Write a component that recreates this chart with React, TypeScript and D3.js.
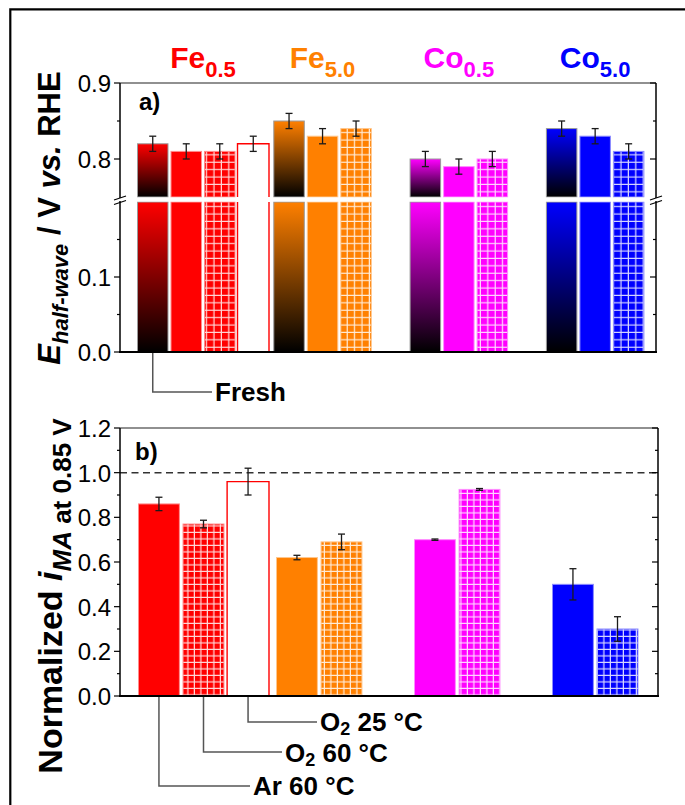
import React from 'react';
import * as d3 from 'd3';

const W = 685;
const H = 805;
const FONT = "'Liberation Sans', Arial, Helvetica, sans-serif";

// ---- data ----
const groupKeys = ['Fe0.5', 'Fe5.0', 'Co0.5', 'Co5.0'];
const groupNames = ['Fe', 'Fe', 'Co', 'Co'];
const groupSubs = ['0.5', '5.0', '0.5', '5.0'];
const groupColors = ['#FF0000', '#FF8000', '#FF00FF', '#0000FF'];

const condA = ['Fresh', 'Ar 60', 'O2 60', 'O2 25'];
const condB = ['Ar 60', 'O2 60', 'O2 25'];

// panel a: E half-wave (V vs RHE)
const ehwFe05 = [0.82, 0.81, 0.81, 0.82];
const ehwFe50 = [0.85, 0.83, 0.84, null];
const ehwCo05 = [0.80, 0.79, 0.80, null];
const ehwCo50 = [0.84, 0.83, 0.81, null];
const ehwErrFe05 = [0.01, 0.01, 0.01, 0.01];
const ehwErrFe50 = [0.01, 0.01, 0.01, null];
const ehwErrCo05 = [0.01, 0.01, 0.01, null];
const ehwErrCo50 = [0.01, 0.01, 0.01, null];

// panel b: normalized mass activity
const maFe05 = [0.86, 0.77, 0.96];
const maFe50 = [0.62, 0.69, null];
const maCo05 = [0.70, 0.925, null];
const maCo50 = [0.50, 0.30, null];
const maErrFe05 = [0.03, 0.017, 0.06];
const maErrFe50 = [0.01, 0.035, null];
const maErrCo05 = [0.003, 0.004, null];
const maErrCo50 = [0.07, 0.055, null];

const ticksAUp = [0.8, 0.9];
const ticksALo = [0.0, 0.1];
const minorAUp = [0.85];
const minorALo = [0.05, 0.15];
const ticksB = [0, 0.2, 0.4, 0.6, 0.8, 1.0, 1.2];
const minorB = [0.1, 0.3, 0.5, 0.7, 0.9, 1.1];

const ehwVals = [ehwFe05, ehwFe50, ehwCo05, ehwCo50];
const ehwErrs = [ehwErrFe05, ehwErrFe50, ehwErrCo05, ehwErrCo50];
const maVals = [maFe05, maFe50, maCo05, maCo50];
const maErrs = [maErrFe05, maErrFe50, maErrCo05, maErrCo50];

const styleA = ['grad', 'solid', 'grid', 'open'];
const styleB = ['solid', 'grid', 'open'];

function light(c: string, t = 0.55) {
  return d3.interpolateRgb(c, '#ffffff')(t);
}

export default function App() {
  // ---- panel a scales ----
  const aLeft = 120, aRight = 656;
  const yUp = d3.scaleLinear().domain([0.75, 0.9]).range([197, 83]);
  const yLo = d3.scaleLinear().domain([0, 0.2]).range([352, 202]);
  const xA0 = d3.scaleBand().domain(groupKeys).range([137, 137 + 4 * 136.3]).paddingInner(0).paddingOuter(0);
  const xA1 = d3.scaleBand().domain(condA).range([0, 132]).paddingInner(0.06);

  // ---- panel b scales ----
  const bLeft = 120, bRight = 658;
  const yB = d3.scaleLinear().domain([0, 1.2]).range([696, 428]);
  const xB0 = d3.scaleBand().domain(groupKeys).range([138, 138 + 4 * 138]).paddingInner(0).paddingOuter(0);
  const xB1 = d3.scaleBand().domain(condB).range([0, 131]).paddingInner(0.06);

  const bwA = xA1.bandwidth();
  const bwB = xB1.bandwidth();

  const renderBar = (
    key: string, x: number, w: number, yTop: number, yBot: number,
    style: string, gi: number, panel: string, sides: string
  ) => {
    const c = groupColors[gi];
    if (style === 'open') {
      let d = '';
      if (sides === 'bottom') d = `M${x},${yTop}V${yBot}H${x + w}V${yTop}`;
      else d = `M${x},${yBot}V${yTop}H${x + w}V${yBot}`;
      return (
        <g key={key}>
          <rect x={x} y={yTop} width={w} height={yBot - yTop} fill="#fff" />
          <path d={d} fill="none" stroke={c} strokeWidth={1.4} />
        </g>
      );
    }
    let fill = c;
    if (style === 'grad') fill = `url(#grad-${gi})`;
    if (style === 'grid') fill = `url(#grid-${panel}-${gi})`;
    return (
      <rect key={key} x={x + 0.5} y={yTop} width={w - 1} height={yBot - yTop}
        fill={fill} stroke={style === 'grad' ? '#9a9a9a' : light(c)} strokeWidth={1} />
    );
  };

  const errBar = (key: string, cx: number, yHi: number, yLo2: number, cap: number) => (
    <g key={key} stroke="#1a1a1a" strokeWidth={1.3}>
      <line x1={cx} x2={cx} y1={yHi} y2={yLo2} />
      <line x1={cx - cap / 2} x2={cx + cap / 2} y1={yHi} y2={yHi} />
      <line x1={cx - cap / 2} x2={cx + cap / 2} y1={yLo2} y2={yLo2} />
    </g>
  );

  const barsA: any[] = [];
  const errsA: any[] = [];
  groupKeys.forEach((g, gi) => {
    condA.forEach((cnd, ci) => {
      const v = ehwVals[gi][ci];
      if (v == null) return;
      const x = (xA0(g) as number) + (xA1(cnd) as number);
      const st = styleA[ci];
      barsA.push(renderBar(`al-${gi}-${ci}`, x, bwA, yLo(0.2), yLo(0), st, gi, 'a', 'bottom'));
      barsA.push(renderBar(`au-${gi}-${ci}`, x, bwA, yUp(v), yUp(0.75), st, gi, 'a', 'top'));
      const e = ehwErrs[gi][ci] as number;
      errsA.push(errBar(`ae-${gi}-${ci}`, x + bwA / 2, yUp(v + e), yUp(v - e), 7));
    });
  });

  const barsB: any[] = [];
  const errsB: any[] = [];
  groupKeys.forEach((g, gi) => {
    condB.forEach((cnd, ci) => {
      const v = maVals[gi][ci];
      if (v == null) return;
      const x = (xB0(g) as number) + (xB1(cnd) as number);
      barsB.push(renderBar(`b-${gi}-${ci}`, x, bwB, yB(v), yB(0), styleB[ci], gi, 'b', 'all'));
      const e = maErrs[gi][ci] as number;
      errsB.push(errBar(`be-${gi}-${ci}`, x + bwB / 2, yB(v + e), yB(v - e), 7));
    });
  });

  const labelCenters = groupKeys.map((g, gi) => {
    const n = ehwVals[gi].filter((v) => v != null).length;
    const start = xA0(g) as number;
    const last = start + (xA1(condA[n - 1]) as number) + bwA;
    return (start + last) / 2;
  });

  const tickLabel = (key: string, y: number, txt: string) => (
    <text key={key} x={111} y={y + 9} textAnchor="end" fontSize={24} fontFamily={FONT} fill="#000">{txt}</text>
  );

  const freshX = (xA0(groupKeys[0]) as number) + (xA1('Fresh') as number) + bwA / 2;
  const bArX = (xB0(groupKeys[0]) as number) + (xB1('Ar 60') as number) + bwB / 2;
  const bO60X = (xB0(groupKeys[0]) as number) + (xB1('O2 60') as number) + bwB / 2;
  const bO25X = (xB0(groupKeys[0]) as number) + (xB1('O2 25') as number) + bwB / 2;

  return (
    <svg width={W} height={H} viewBox={`0 0 ${W} ${H}`} style={{ position: 'absolute', left: 0, top: 0, background: '#fff' }}>
      <defs>
        {groupColors.map((c, i) => (
          <linearGradient key={`g${i}`} id={`grad-${i}`} x1="0" y1="0" x2="0" y2="1">
            <stop offset="0" stopColor={c} />
            <stop offset="1" stopColor="#000" />
          </linearGradient>
        ))}
        {groupColors.map((c, i) => (
          <pattern key={`pa${i}`} id={`grid-a-${i}`} patternUnits="userSpaceOnUse" width={7.4} height={7.4}>
            <rect width={7.4} height={7.4} fill={c} />
            <path d="M6.8,0V7.4M0,6.8H7.4" stroke="#fff" strokeOpacity={0.85} strokeWidth={1.2} />
          </pattern>
        ))}
        {groupColors.map((c, i) => (
          <pattern key={`pb${i}`} id={`grid-b-${i}`} patternUnits="userSpaceOnUse" width={6.5} height={6.5}>
            <rect width={6.5} height={6.5} fill={c} />
            <path d="M5.9,0V6.5M0,5.9H6.5" stroke="#fff" strokeOpacity={0.85} strokeWidth={1.2} />
          </pattern>
        ))}
      </defs>

      {/* outer frame */}
      <path d={`M10.3,${H}V9.3H${W}`} fill="none" stroke="#000" strokeWidth={2.2} />

      {/* group labels */}
      {groupKeys.map((g, gi) => (
        <text key={`gl${gi}`} x={labelCenters[gi]} y={68} textAnchor="middle" fontFamily={FONT}
          fontWeight="bold" fontSize={30} fill={groupColors[gi]}>
          <tspan>{groupNames[gi]}</tspan>
          <tspan fontSize={22} dy={9}>{groupSubs[gi]}</tspan>
        </text>
      ))}

      {/* ===== panel a ===== */}
      {barsA}
      <rect x={aLeft + 1} y={yUp(0.75) + 0.5} width={aRight - aLeft - 2} height={yLo(0.2) - yUp(0.75) - 1} fill="#fff" />
      {errsA}
      <line x1={aLeft} x2={aRight} y1={yUp(0.9)} y2={yUp(0.9)} stroke="#222" strokeWidth={1.2} />
      <line x1={aLeft} x2={aLeft} y1={yUp(0.9)} y2={yUp(0.75) + 1} stroke="#000" strokeWidth={1.5} />
      <line x1={aLeft} x2={aLeft} y1={yLo(0.2) - 1} y2={yLo(0)} stroke="#000" strokeWidth={1.5} />
      <line x1={aRight} x2={aRight} y1={yUp(0.9)} y2={yUp(0.75) + 1} stroke="#000" strokeWidth={1.5} />
      <line x1={aRight} x2={aRight} y1={yLo(0.2) - 1} y2={yLo(0)} stroke="#000" strokeWidth={1.5} />
      <line x1={aLeft - 1} x2={aRight + 1} y1={yLo(0)} y2={yLo(0)} stroke="#000" strokeWidth={2.2} />
      {[aLeft, aRight].map((x, i) => (
        <g key={`bk${i}`} stroke="#000" strokeWidth={1.3}>
          <line x1={x - 6} x2={x + 6} y1={yUp(0.75) + 3} y2={yUp(0.75) - 1} />
          <line x1={x - 6} x2={x + 6} y1={yLo(0.2) + 2.5} y2={yLo(0.2) - 1.5} />
        </g>
      ))}
      {ticksAUp.map((t) => (
        <g key={`tau${t}`} stroke="#000" strokeWidth={1.2}>
          <line x1={aLeft - 6} x2={aLeft} y1={yUp(t)} y2={yUp(t)} />
          <line x1={aRight - 6} x2={aRight} y1={yUp(t)} y2={yUp(t)} />
        </g>
      ))}
      {minorAUp.map((t) => (
        <g key={`mau${t}`} stroke="#000" strokeWidth={1.2}>
          <line x1={aLeft - 3} x2={aLeft} y1={yUp(t)} y2={yUp(t)} />
          <line x1={aRight - 3} x2={aRight} y1={yUp(t)} y2={yUp(t)} />
        </g>
      ))}
      {ticksALo.map((t) => (
        <g key={`tal${t}`} stroke="#000" strokeWidth={1.2}>
          <line x1={aLeft - 6} x2={aLeft} y1={yLo(t)} y2={yLo(t)} />
          <line x1={aRight - 6} x2={aRight} y1={yLo(t)} y2={yLo(t)} />
        </g>
      ))}
      {minorALo.map((t) => (
        <g key={`mal${t}`} stroke="#000" strokeWidth={1.2}>
          <line x1={aLeft - 3} x2={aLeft} y1={yLo(t)} y2={yLo(t)} />
          <line x1={aRight - 3} x2={aRight} y1={yLo(t)} y2={yLo(t)} />
        </g>
      ))}
      {ticksAUp.map((t) => tickLabel(`lau${t}`, yUp(t), d3.format('.1f')(t)))}
      {ticksALo.map((t) => tickLabel(`lal${t}`, yLo(t), d3.format('.1f')(t)))}
      <text x={139} y={110} fontFamily={FONT} fontWeight="bold" fontSize={24}>a)</text>

      {/* panel a y title */}
      <text transform="translate(60,218) rotate(-90)" textAnchor="middle" fontFamily={FONT} fontWeight="bold" fontSize={31}>
        <tspan fontStyle="italic">E</tspan>
        <tspan fontStyle="italic" fontSize={22} dy={8}>half-wave</tspan>
        <tspan dy={-8}> / V </tspan>
        <tspan fontStyle="italic">vs.</tspan>
        <tspan> RHE</tspan>
      </text>

      {/* Fresh annotation */}
      <path d={`M${freshX},${yLo(0) + 1}V392H212`} fill="none" stroke="#555" strokeWidth={1.5} />
      <text x={215} y={401} fontFamily={FONT} fontWeight="bold" fontSize={26}>Fresh</text>

      {/* ===== panel b ===== */}
      <line x1={bLeft} x2={bRight} y1={yB(1.0)} y2={yB(1.0)} stroke="#333" strokeWidth={1.5} strokeDasharray="7,4.5" />
      {barsB}
      {errsB}
      <line x1={bLeft} x2={bRight} y1={yB(1.2)} y2={yB(1.2)} stroke="#222" strokeWidth={1.2} />
      <line x1={bLeft} x2={bLeft} y1={yB(1.2)} y2={yB(0)} stroke="#000" strokeWidth={1.5} />
      <line x1={bRight} x2={bRight} y1={yB(1.2)} y2={yB(0)} stroke="#000" strokeWidth={1.5} />
      <line x1={bLeft - 1} x2={bRight + 1} y1={yB(0)} y2={yB(0)} stroke="#000" strokeWidth={2.2} />
      {ticksB.map((t) => (
        <g key={`tb${t}`} stroke="#000" strokeWidth={1.2}>
          <line x1={bLeft - 6} x2={bLeft} y1={yB(t)} y2={yB(t)} />
          <line x1={bRight - 6} x2={bRight} y1={yB(t)} y2={yB(t)} />
        </g>
      ))}
      {minorB.map((t) => (
        <g key={`mb${t}`} stroke="#000" strokeWidth={1.2}>
          <line x1={bLeft - 3} x2={bLeft} y1={yB(t)} y2={yB(t)} />
          <line x1={bRight - 3} x2={bRight} y1={yB(t)} y2={yB(t)} />
        </g>
      ))}
      {ticksB.map((t) => tickLabel(`lb${t}`, yB(t), d3.format('.1f')(t)))}
      <text x={135} y={460} fontFamily={FONT} fontWeight="bold" fontSize={24}>b)</text>

      {/* panel b y title */}
      <text transform="translate(62,596) rotate(-90)" textAnchor="middle" fontFamily={FONT} fontWeight="bold" fontSize={34}>
        <tspan>Normalized </tspan>
        <tspan fontStyle="italic">i</tspan>
        <tspan fontStyle="italic" fontSize={26} dy={9}>MA</tspan>
        <tspan fontSize={26}> at 0.85 V</tspan>
      </text>

      {/* condition annotations */}
      <g fill="none" stroke="#555" strokeWidth={1.5}>
        <path d={`M${bO25X},${yB(0) + 1}V722H317`} />
        <path d={`M${bO60X},${yB(0) + 1}V752H282`} />
        <path d={`M${bArX},${yB(0) + 1}V786H250`} />
      </g>
      <text x={320} y={731} fontFamily={FONT} fontWeight="bold" fontSize={26}>
        <tspan>O</tspan><tspan fontSize={18} dy={4}>2</tspan><tspan dy={-4}> 25 °C</tspan>
      </text>
      <text x={285} y={762} fontFamily={FONT} fontWeight="bold" fontSize={26}>
        <tspan>O</tspan><tspan fontSize={18} dy={4}>2</tspan><tspan dy={-4}> 60 °C</tspan>
      </text>
      <text x={253} y={795} fontFamily={FONT} fontWeight="bold" fontSize={26}>Ar 60 °C</text>
    </svg>
  );
}
